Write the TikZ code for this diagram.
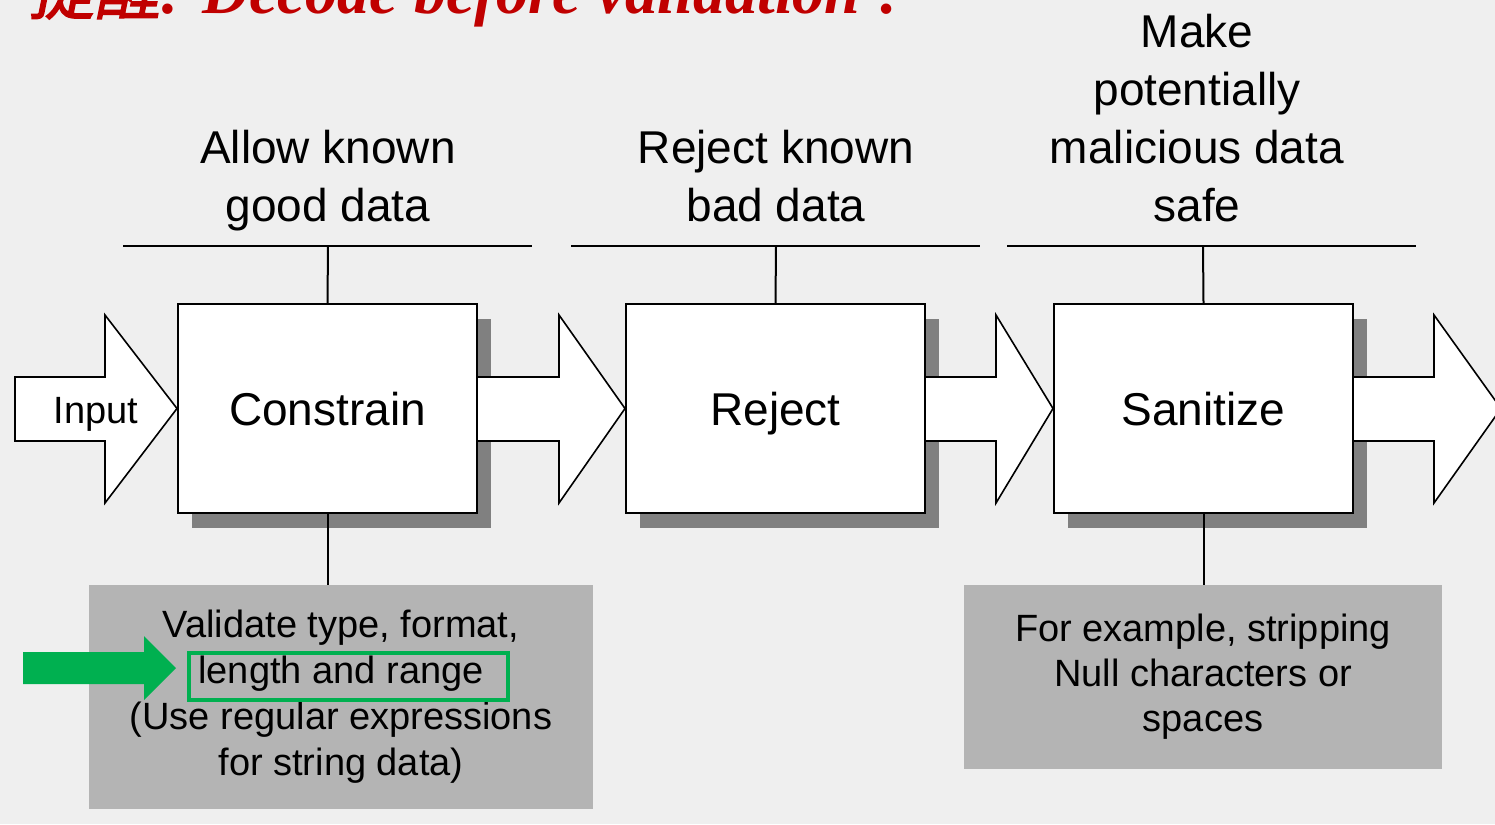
\documentclass[tikz,border=0pt]{standalone}
\usepackage{fontspec}
\setmainfont{Liberation Sans}
\newfontfamily\titlefont{Liberation Serif}
\newfontfamily\cjkfont[FakeBold=2,FakeSlant=0.2]{Noto Sans CJK SC}
\usetikzlibrary{shadows,calc}
\definecolor{bgcol}{RGB}{239,239,239}
\definecolor{shadowgray}{RGB}{128,128,128}
\definecolor{notegray}{RGB}{180,180,180}
\definecolor{titlered}{RGB}{192,0,0}
\definecolor{hlgreen}{RGB}{0,176,80}
\tikzset{
  stage/.style={draw=black, line width=2pt, fill=white, minimum width=299pt, minimum height=209pt, inner sep=0pt,
    font=\fontsize{46}{55}\selectfont, text height=33pt, text depth=0pt,
    drop shadow={shadow xshift=14pt, shadow yshift=-15pt, fill=shadowgray, opacity=1}},
  toplabel/.style={align=center, anchor=base, inner sep=0pt, font=\fontsize{46}{58}\selectfont},
  bar/.style={draw=black, line width=2pt},
  blockarrow/.style={draw=black, line width=1.6pt, fill=white, line join=miter},
  note/.style={fill=notegray, inner sep=0pt, align=center},
  greenarrow/.style={fill=hlgreen},
  greenbox/.style={draw=hlgreen, line width=4pt, inner sep=0pt}
}
\begin{document}
\begin{tikzpicture}[x=1pt,y=-1pt]
\useasboundingbox (0,0) rectangle (1495,824);
\fill[bgcol] (0,0) rectangle (1495,824);

% title (cut by the top edge, as in the reference)
\node[anchor=base west, inner sep=0pt, text=titlered] (title) at (28,14)
  {{\cjkfont\fontsize{66}{66}\selectfont 提醒}{\titlefont\bfseries\itshape\fontsize{64}{64}\selectfont : Decode before validation !}};

% stage boxes
\node[stage] (c) at (327.5,408.5) {Constrain};
\node[stage] (r) at (775.5,408.5) {Reject};
\node[stage] (s) at (1203.5,408.5) {Sanitize};

% top labels
\node[toplabel] (lc) at (328,221) {Allow known\\good data};
\node[toplabel] (lr) at (776,221) {Reject known\\bad data};
\node[toplabel] (ls) at (1197,221) {Make\\potentially\\malicious data\\safe};

% top bars
\coordinate (bc) at (328,246);
\coordinate (br) at (776,246);
\coordinate (bs) at (1203,246);
\draw[bar] (123,246) -- (532,246);
\draw[bar] (571,246) -- (980,246);
\draw[bar] (1007,246) -- (1416,246);
\draw[bar] (c.north) -- (bc);
\draw[bar] (r.north) -- (br);
\draw[bar] (s.north) -- (bs);

% block arrows
\draw[blockarrow] (15,377) -- (105,377) -- (105,315) -- (c.west) -- (105,503) -- (105,441) -- (15,441) -- cycle;
\node[inner sep=0pt, anchor=base, font=\fontsize{38}{38}\selectfont] (in) at (96,423) {Input};
\draw[blockarrow] ($(c.east)+(0,-31.5)$) -- (559,377) -- (559,315) -- (r.west) -- (559,503) -- (559,441) -- ($(c.east)+(0,32.5)$);
\draw[blockarrow] ($(r.east)+(0,-31.5)$) -- (996,377) -- (996,315) -- (s.west) -- (996,503) -- (996,441) -- ($(r.east)+(0,32.5)$);
\coordinate (out) at (1501,408.5);
\draw[blockarrow] ($(s.east)+(0,-31.5)$) -- (1434,377) -- (1434,315) -- (out) -- (1434,503) -- (1434,441) -- ($(s.east)+(0,32.5)$);

% notes
\node[note, minimum width=504pt, minimum height=224pt, font=\fontsize{38}{46}\selectfont] (nc) at (341,697)
  {Validate type, format,\\length and range\\(Use regular expressions\\for string data)};
\node[note, minimum width=478pt, minimum height=184pt, font=\fontsize{38}{45}\selectfont] (ns) at (1203,677)
  {For example, stripping\\Null characters or\\spaces};
\draw[bar] (c.south) -- (c.south |- nc.north);
\draw[bar] (s.south) -- (s.south |- ns.north);

% green highlight
\node[greenbox, minimum width=319pt, minimum height=47pt] (hl) at (348.5,676) {};
\fill[greenarrow] (23,652) -- (144,652) -- (144,636) -- (176,668) -- (144,700) -- (144,684) -- (23,684) -- cycle;
\end{tikzpicture}
\end{document}
